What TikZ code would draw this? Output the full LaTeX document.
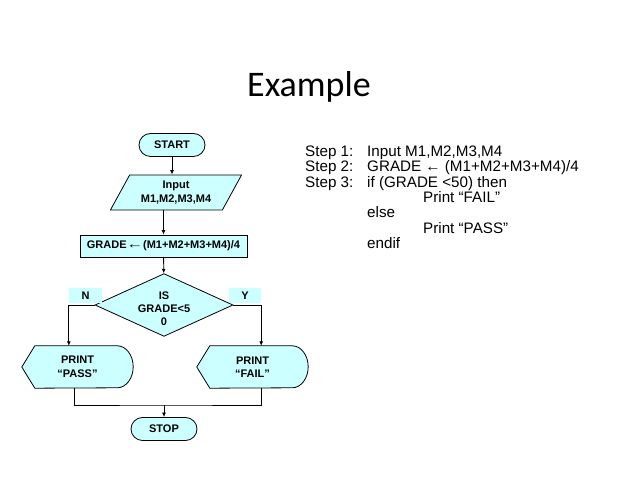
\documentclass[tikz,border=0pt]{standalone}
\usepackage{fontspec}
\setmainfont{Liberation Sans}
\newfontfamily\titlefont{Carlito}
\usetikzlibrary{shapes.geometric,arrows.meta,backgrounds}
\definecolor{boxcyan}{RGB}{204,255,255}
\newcommand{\gradearrow}{\scalebox{1.5}[1.2]{←}}
\tikzset{
  fbox/.style={draw,fill=boxcyan,line width=0.8pt,inner sep=0pt,align=center,
    font=\bfseries\fontsize{11}{13}\selectfont},
  term/.style={fbox,minimum width=66pt,minimum height=23pt,rounded corners=11.5pt},
  inbox/.style={fbox,trapezium,trapezium left angle=58,trapezium right angle=122,
    trapezium stretches=true,minimum width=132pt,minimum height=35pt,
    font=\bfseries\fontsize{11}{14}\selectfont},
  procbox/.style={fbox,minimum width=167pt,minimum height=22pt},
  decbox/.style={fbox,diamond,aspect=2.2,minimum width=131pt,minimum height=60pt,
    font=\bfseries\fontsize{11}{13}\selectfont},
  lab/.style={fill=boxcyan,inner sep=0pt,minimum height=15pt,
    font=\bfseries\fontsize{11}{13}\selectfont},
  disptext/.style={inner sep=0pt,minimum width=111pt,minimum height=42pt,align=center,
    font=\bfseries\fontsize{11}{13.5}\selectfont},
  dispshape/.style={draw,fill=boxcyan,line width=0.8pt},
  line/.style={line width=0.8pt},
  arr/.style={line,-{Latex[length=4.5pt,width=4pt]}},
  steptext/.style={anchor=base west,inner sep=0pt,font=\fontsize{15.2}{18}\selectfont}
}
\begin{document}
\begin{tikzpicture}[x=1pt,y=1pt]
\useasboundingbox (0,0) rectangle (638,479);

%title
\node[anchor=base,inner sep=0pt,font=\titlefont\fontsize{36}{40}\selectfont] (title) at (309,382) {Example};

%flowchart
\node[term] (start) at (172,334) {START};
\node[inbox] (input) at (176,286.5) {Input\\M1,M2,M3,M4};
\node[procbox] (grade) at (163.5,233) {GRADE\gradearrow(M1+M2+M3+M4)/4};
\node[decbox] (dia) at (164,174) {\raisebox{-5pt}[\height][\depth]{\begin{tabular}{@{}c@{}}IS\\GRADE<5\\0\end{tabular}}};
\node[lab,minimum width=33pt] (nlab) at (85.5,183.5) {N};
\node[lab,minimum width=32pt] (ylab) at (245,183.5) {Y};
\node[disptext] (pass) at (77.5,112) {PRINT\\“PASS”};
\node[disptext] (fail) at (252.5,112) {PRINT\\“FAIL”};
\node[term] (stop) at (164,50) {STOP};
\coordinate (merge) at (164,74);

\begin{scope}[on background layer]
\draw[dispshape] (pass.west) -- ([xshift=13pt]pass.north west) -- ([xshift=-16pt]pass.north east)
  arc[start angle=90,end angle=-90,x radius=16pt,y radius=21pt] -- ([xshift=13pt]pass.south west) -- cycle;
\draw[dispshape] (fail.west) -- ([xshift=13pt]fail.north west) -- ([xshift=-16pt]fail.north east)
  arc[start angle=90,end angle=-90,x radius=16pt,y radius=21pt] -- ([xshift=13pt]fail.south west) -- cycle;
\end{scope}

\draw[arr] (start) -- (start |- input.north);
\draw[arr] (grade.north |- input.south) -- (grade.north);
\draw[arr] (grade) -- (dia);
\draw[arr] (dia.west) -| (nlab.west |- pass.north);
\draw[arr] (dia.east) -| (ylab.east |- fail.north);
\draw[line] ([xshift=-3.5pt]pass.south) |- (merge) -| (ylab.east |- fail.south);
\draw[arr] (merge) -- (stop);

%steps
\node[steptext] (s1) at (305,322.5) {Step 1:};
\node[steptext] (s2) at (305,307.2) {Step 2:};
\node[steptext] (s3) at (305,291.8) {Step 3:};
\node[steptext] (t1) at (367,322.5) {Input M1,M2,M3,M4};
\node[steptext] (t2) at (367,307.2) {GRADE ← (M1+M2+M3+M4)/4};
\node[steptext] (t3) at (367,291.8) {if (GRADE <50) then};
\node[steptext] (t4) at (423,276.5) {Print “FAIL”};
\node[steptext] (t5) at (367,261.1) {else};
\node[steptext] (t6) at (423,245.8) {Print “PASS”};
\node[steptext] (t7) at (367,230.4) {endif};

\end{tikzpicture}
\end{document}
